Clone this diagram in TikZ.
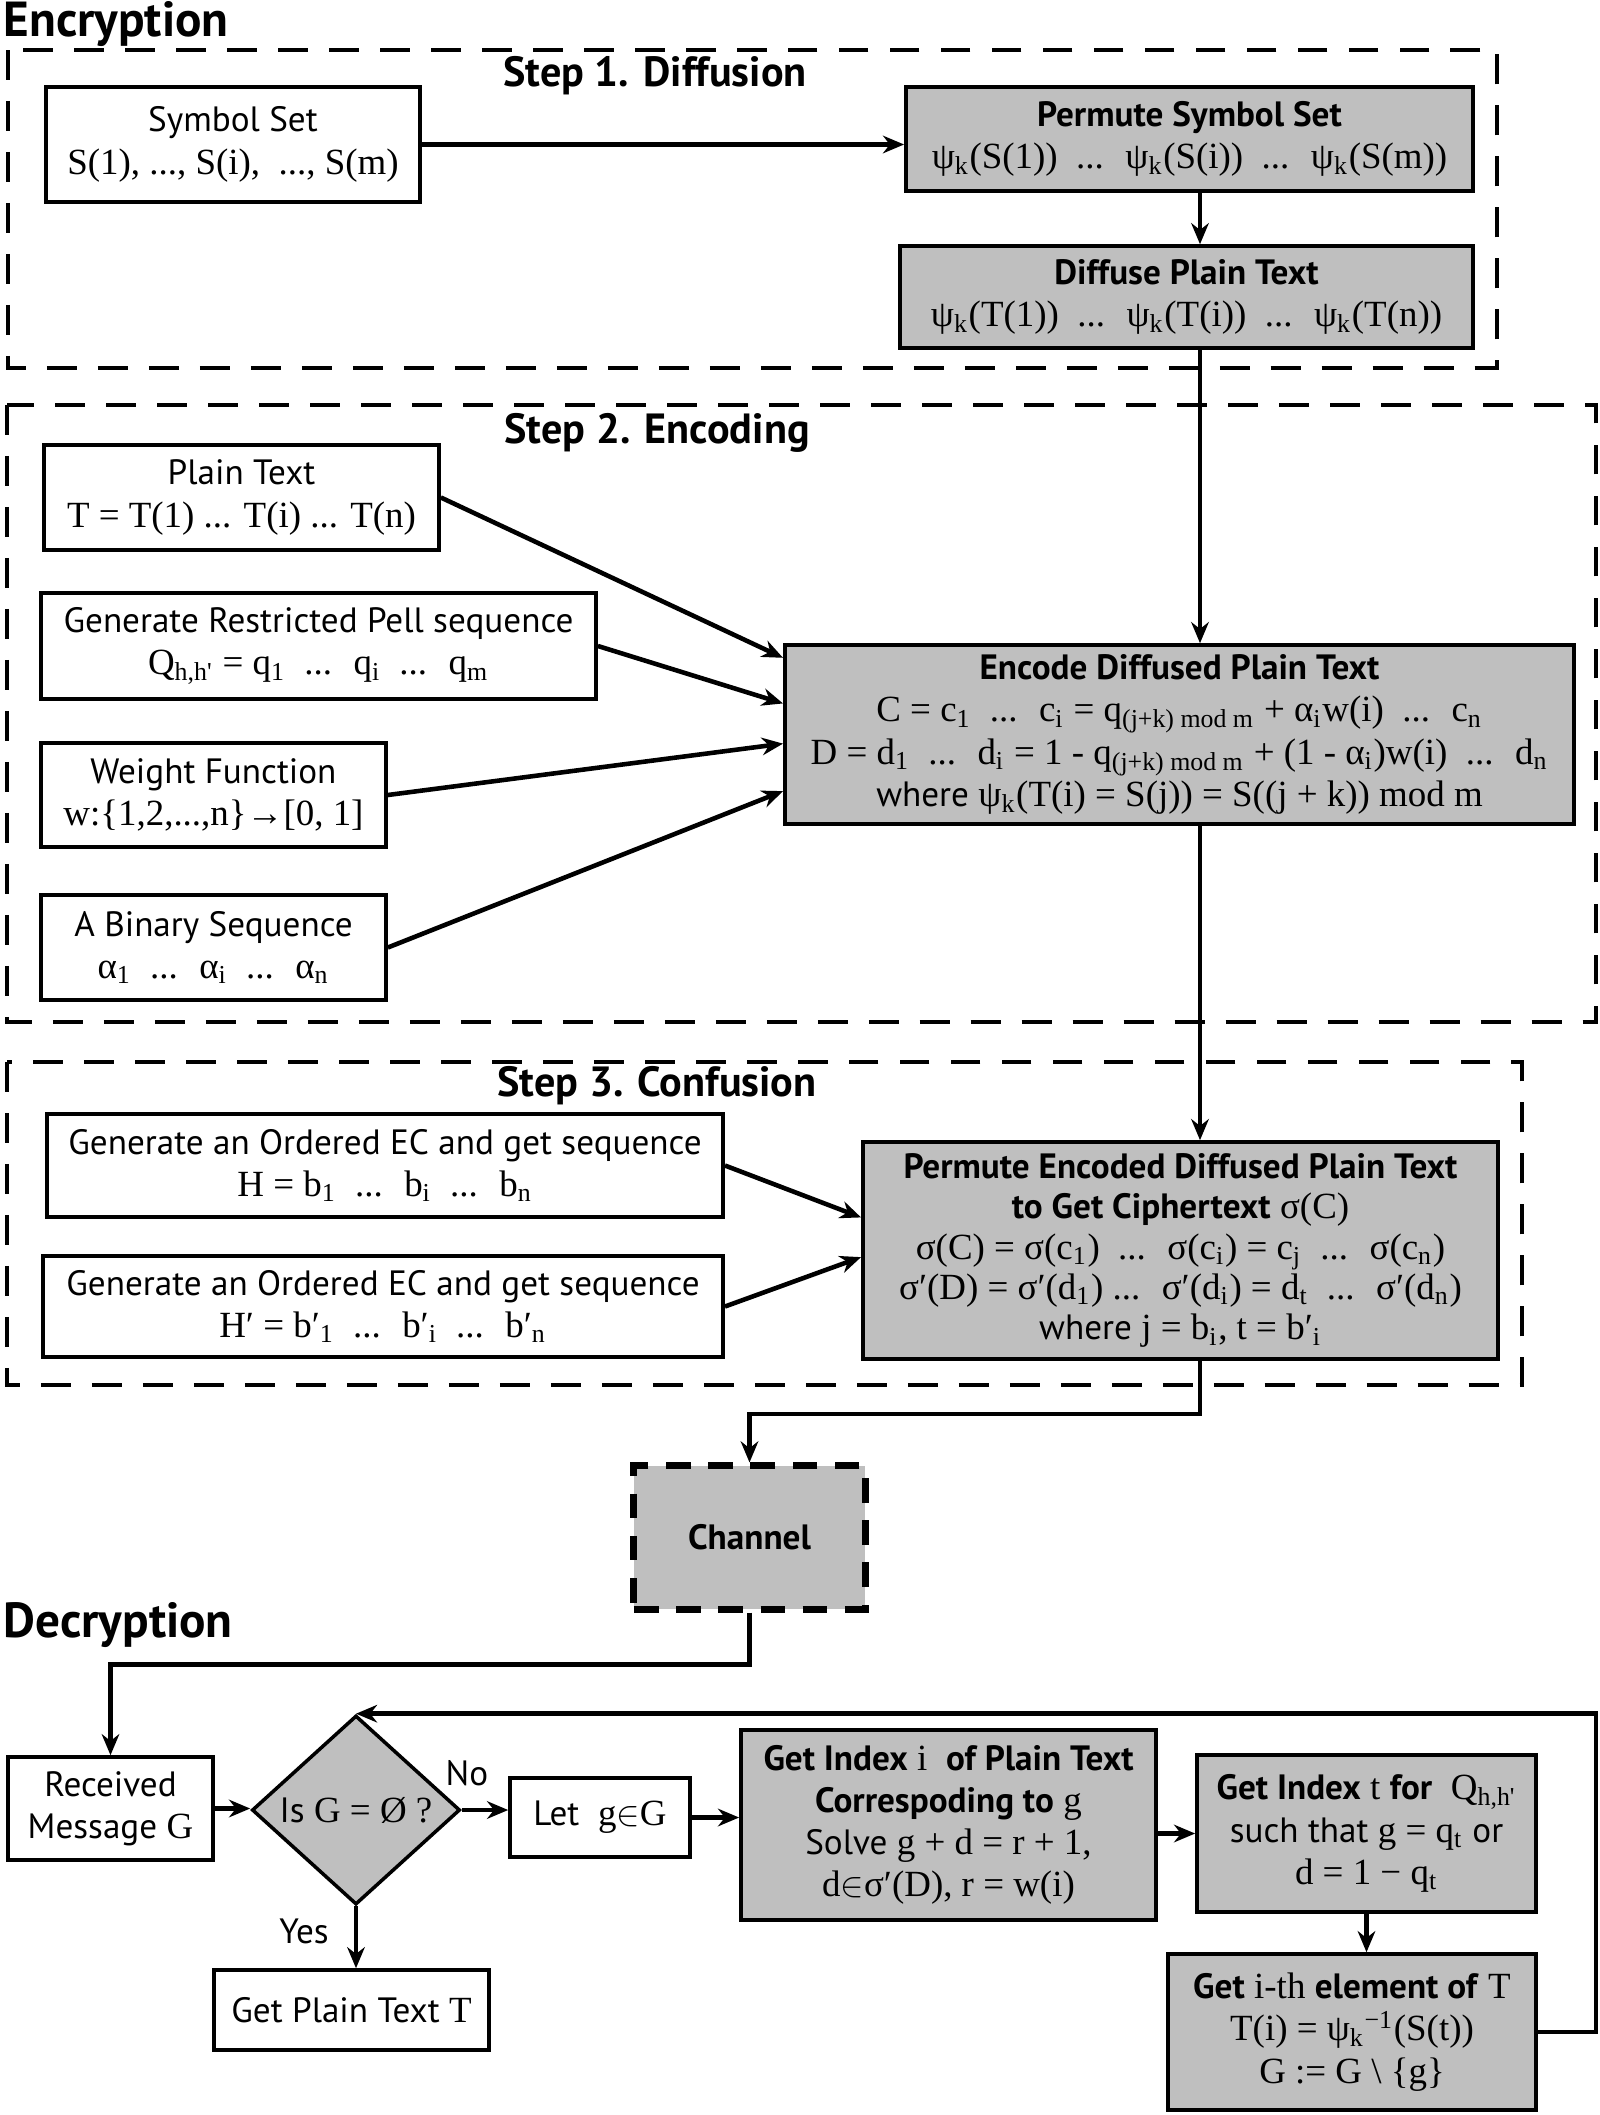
\documentclass[tikz,border=0pt]{standalone}
\usepackage{fontspec}
\setsansfont{PT Sans}
\renewcommand{\familydefault}{\sfdefault}
\newfontfamily\tms[Scale=1.05]{Liberation Serif}
\usepackage{tikz}
\usetikzlibrary{shapes.geometric, arrows.meta, calc}

\newcommand{\mt}[1]{{\tms #1}}
\newcommand{\sbs}[1]{\textsubscript{#1}}

\tikzset{
    box/.style={draw, line width=1pt, fill=white, align=center, inner sep=2pt,
        font=\fontsize{10}{12}\selectfont},
    shaded/.style={box, fill=black!25},
    stepframe/.style={line width=1.4pt, dash pattern=on 8.5pt off 6pt},
    steptitle/.style={font=\bfseries\fontsize{12}{14}\selectfont},
    parttitle/.style={anchor=base west, inner sep=0, font=\bfseries\fontsize{14}{16}\selectfont},
    flow/.style={line width=1.3pt, -{Stealth[length=6pt, width=5pt]}},
}

\begin{document}
\begin{tikzpicture}[x=0.01cm, y=-0.01cm]
    \useasboundingbox (0,0) rectangle (1599,2115);

    % Titles
    \node[parttitle] (enctitle) at (3,36) {Encryption};
    \node[parttitle] (dectitle) at (3,1637) {Decryption};

    % Dashed step frames
    \draw[stepframe] (8,50) rectangle (1497,368);
    \draw[stepframe] (7,405) rectangle (1596,1022);
    \draw[stepframe] (7,1062) rectangle (1522,1385);
    \node[steptitle] (step1) at (655,76) {Step 1. Diffusion};
    \node[steptitle] (step2) at (657,433) {Step 2. Encoding};
    \node[steptitle] (step3) at (657,1086) {Step 3. Confusion};

    \coordinate (trunk) at (1200,0);

    % Step 1
    \node[box, minimum width=3.74cm, minimum height=1.15cm] (symbol) at (233,144.5)
        {Symbol Set\\ \mt{S(1), ..., S(i), \ ..., S(m)}};
    \node[shaded, minimum width=5.67cm, minimum height=1.04cm] (permsym) at (1189.5,139)
        {\textbf{Permute Symbol Set}\\ \mt{ψ\sbs{k}(S(1)) \ ... \ ψ\sbs{k}(S(i)) \ ... \ ψ\sbs{k}(S(m))}};
    \node[shaded, minimum width=5.73cm, minimum height=1.02cm] (diffuse) at (1186.5,297)
        {\textbf{Diffuse Plain Text}\\ \mt{ψ\sbs{k}(T(1)) \ ... \ ψ\sbs{k}(T(i)) \ ... \ ψ\sbs{k}(T(n))}};

    % Step 2
    \node[box, minimum width=3.95cm, minimum height=1.05cm] (plain) at (241.5,497.5)
        {Plain Text\\ \mt{T = T(1) ... T(i) ... T(n)}};
    \node[box, minimum width=5.55cm, minimum height=1.06cm] (pell) at (318.5,646)
        {Generate Restricted Pell sequence\\ \mt{Q\sbs{h,h'} = q\sbs{1} \ ... \ q\sbs{i} \ ... \ q\sbs{m}}};
    \node[box, minimum width=3.45cm, minimum height=1.04cm] (weight) at (213.5,795)
        {Weight Function\\ \mt{w:\{1,2,...,n\}→[0, 1]}};
    \node[box, minimum width=3.45cm, minimum height=1.05cm] (binary) at (213.5,947.5)
        {A Binary Sequence\\ \mt{α\sbs{1} \ ... \ α\sbs{i} \ ... \ α\sbs{n}}};
    \node[shaded, minimum width=7.89cm, minimum height=1.79cm] (enc) at (1179.5,734.5)
        {\textbf{Encode Diffused Plain Text}\\
         \mt{C = c\sbs{1} \ ... \ c\sbs{i} = q\sbs{(j+k) mod m} + α\sbs{i}w(i) \ ... \ c\sbs{n}}\\
         \mt{D = d\sbs{1} \ ... \ d\sbs{i} = 1 - q\sbs{(j+k) mod m} + (1 - α\sbs{i})w(i) \ ... \ d\sbs{n}}\\
         where \mt{ψ\sbs{k}(T(i) = S(j)) = S((j + k)) mod m}};

    % Step 3
    \node[box, minimum width=6.76cm, minimum height=1.03cm] (ecfirst) at (385,1165.5)
        {Generate an Ordered EC and get sequence\\ \mt{H = b\sbs{1} \ ... \ b\sbs{i} \ ... \ b\sbs{n}}};
    \node[box, minimum width=6.80cm, minimum height=1.01cm] (ecsecond) at (383,1306.5)
        {Generate an Ordered EC and get sequence\\ \mt{H′ = b′\sbs{1} \ ... \ b′\sbs{i} \ ... \ b′\sbs{n}}};
    \node[shaded, minimum width=6.35cm, minimum height=2.17cm, font=\fontsize{10}{11.5}\selectfont] (permenc) at (1180.5,1250.5)
        {\textbf{Permute Encoded Diffused Plain Text}\\
         \textbf{to Get Ciphertext} \mt{σ(C)}\\
         \mt{σ(C) = σ(c\sbs{1}) \ ... \ σ(c\sbs{i}) = c\sbs{j} \ ... \ σ(c\sbs{n})}\\
         \mt{σ′(D) = σ′(d\sbs{1}) ... \ σ′(d\sbs{i}) = d\sbs{t} \ ... \ σ′(d\sbs{n})}\\
         where \mt{j = b\sbs{i}, t = b′\sbs{i}}};

    % Channel
    \node[box, fill=black!25, line width=2pt, dash pattern=on 7pt off 5pt,
          minimum width=2.31cm, minimum height=1.43cm] (channel) at (749.5,1537.5) {\textbf{Channel}};

    % Decryption
    \node[box, minimum width=2.05cm, minimum height=1.03cm] (received) at (110.5,1808.5)
        {Received\\ Message \mt{G}};
    \node[box, fill=black!25, diamond, aspect=1.1, inner sep=0pt,
          minimum width=2.08cm, minimum height=1.89cm] (decide) at (356,1810)
        {Is \mt{G = Ø ?}};
    \node[box, minimum width=1.80cm, minimum height=0.79cm] (letg) at (600,1817.5)
        {Let \ \mt{g}$\in$\mt{G}};
    \node[shaded, minimum width=4.15cm, minimum height=1.90cm] (geti) at (948.5,1825)
        {\textbf{Get Index} \mt{i} \ \textbf{of Plain Text}\\
         \textbf{Correspoding to} \mt{g}\\
         Solve \mt{g + d = r + 1,}\\
         \mt{d}$\in$\mt{σ′(D), r = w(i)}};
    \node[shaded, minimum width=3.39cm, minimum height=1.57cm] (gett) at (1366.5,1833.5)
        {\textbf{Get Index} \mt{t} \textbf{for} \ \mt{Q\sbs{h,h'}}\\
         such that \mt{g = q\sbs{t}} or\\
         \mt{d = 1 − q\sbs{t}}};
    \node[shaded, minimum width=3.68cm, minimum height=1.56cm] (ith) at (1352,2032)
        {\textbf{Get} \mt{i-th} \textbf{element of} \mt{T}\\
         \mt{T(i) = ψ\sbs{k}\textsuperscript{−1}(S(t))}\\
         \mt{G := G \textbackslash\ \{g\}}};
    \node[box, minimum width=2.75cm, minimum height=0.80cm] (plaint) at (351.5,2010)
        {Get Plain Text \mt{T}};
    \node[font=\fontsize{10}{12}\selectfont] (nolabel) at (467,1773) {No};
    \node[font=\fontsize{10}{12}\selectfont] (yeslabel) at (304,1931) {Yes};

    % Connectors of the encryption part
    \draw[flow] (symbol.east) -- (symbol.east -| permsym.west);
    \draw[flow] (permsym.south -| trunk) -- (diffuse.north -| trunk);
    \draw[flow] (diffuse.south -| trunk) -- (enc.north -| trunk);
    \draw[flow] (plain.east) -- ($(enc.north west)!0.08!(enc.south west)$);
    \draw[flow] (pell.east) -- ($(enc.north west)!0.33!(enc.south west)$);
    \draw[flow] (weight.east) -- ($(enc.north west)!0.55!(enc.south west)$);
    \draw[flow] (binary.east) -- ($(enc.north west)!0.81!(enc.south west)$);
    \draw[flow] (enc.south -| trunk) -- (permenc.north -| trunk);
    \draw[flow] (ecfirst.east) -- ($(permenc.north west)!0.35!(permenc.south west)$);
    \draw[flow] (ecsecond.east) -- ($(permenc.north west)!0.53!(permenc.south west)$);
    \draw[flow] (permenc.south -| trunk) -- ++(0,53) -| (channel.north);

    % Connectors of the decryption part
    \draw[flow] (channel.south) -- ++(0,52) -| (received.north);
    \draw[flow] (received.east) -- (received.east -| decide.west);
    \draw[flow] (decide.east) -- (decide.east -| letg.west);
    \draw[flow] (letg.east) -- (letg.east -| geti.west);
    \draw[flow] (geti.east |- gett.west) -- (gett.west);
    \draw[flow] (gett.south) -- (gett.south |- ith.north);
    \draw[flow] (ith.east) -- ++(58,0) |- (decide.north);
    \draw[flow] (decide.south) -- (decide.south |- plaint.north);
\end{tikzpicture}
\end{document}
